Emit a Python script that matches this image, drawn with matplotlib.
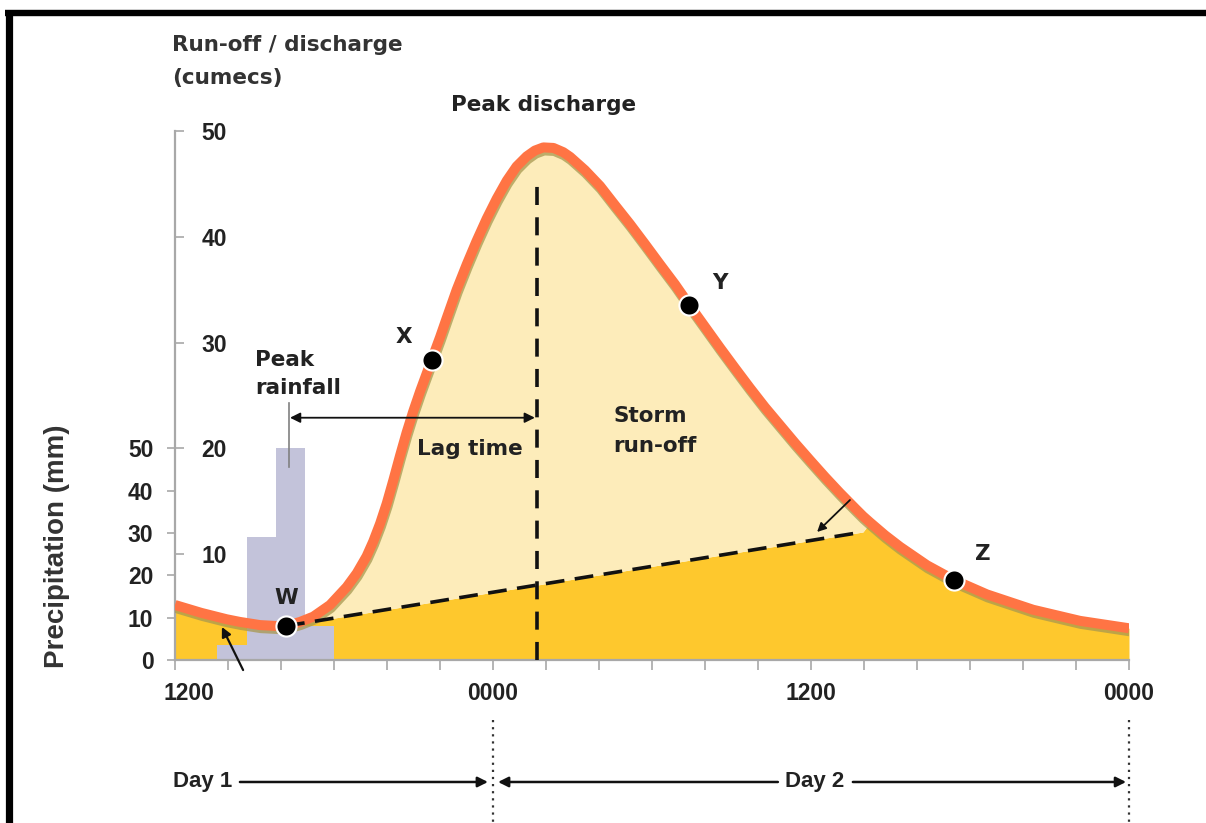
import numpy as np
import matplotlib
matplotlib.use("Agg")
import matplotlib.pyplot as plt
import matplotlib.transforms as mtransforms
from matplotlib import patheffects as pe
from matplotlib.lines import Line2D
from matplotlib.ticker import FixedLocator

# ---------------- data ----------------
hours = [0.0, 1.0, 1.95, 2.45, 3.21, 3.96, 4.19, 4.72, 5.22, 5.85, 6.48, 6.86,
         7.23, 7.48, 7.74, 7.99, 8.24, 8.49, 8.74, 8.99, 9.25, 9.69, 10.0,
         10.25, 10.63, 11.01, 11.38, 11.76, 12.14, 12.52, 12.89, 13.27, 13.58,
         13.90, 14.28, 14.65, 14.91, 15.47, 16.04, 16.60, 17.17, 17.74, 18.30,
         18.87, 19.41, 19.94, 20.57, 21.13, 21.70, 22.26, 22.83, 23.40, 23.96,
         24.53, 25.09, 25.66, 25.96, 26.23, 26.79, 27.36, 28.38, 29.40, 30.64,
         32.38, 34.15, 36.0]
discharge = [5.2, 4.45, 3.85, 3.6, 3.3, 3.2, 3.22, 3.6, 4.1, 5.2, 6.9, 8.2,
             9.8, 11.2, 12.9, 14.8, 17.0, 19.3, 21.5, 23.5, 25.4, 28.4, 30.5,
             32.3, 35.0, 37.4, 39.6, 41.7, 43.6, 45.3, 46.65, 47.6, 48.15,
             48.45, 48.4, 48.0, 47.55, 46.3, 44.8, 43.0, 41.2, 39.3, 37.4,
             35.5, 33.55, 31.7, 29.5, 27.6, 25.7, 23.9, 22.2, 20.5, 18.9,
             17.3, 15.8, 14.35, 13.6, 13.0, 11.8, 10.7, 8.95, 7.56, 6.2,
             4.75, 3.7, 3.0]

rain_start = [1.6, 2.7, 3.8, 4.9]      # hours after 1200 day 1
rain_mm = [3.5, 29, 50, 8]
rain_width = 1.1

base_hours = [4.19, 25.96]
base_discharge = [3.22, 12.1]

peak_hour = 13.66
peak_line_top = 45.2

point_labels = ["W", "X", "Y", "Z"]
point_hours = [4.19, 9.69, 19.41, 29.40]
point_discharge = [3.22, 28.4, 33.55, 7.56]

x_major = [0, 12, 24, 36]
x_major_labels = ["1200", "0000", "1200", "0000"]
x_minor = list(range(0, 37, 2))
discharge_ticks = [10, 20, 30, 40, 50]
precip_ticks = [0, 10, 20, 30, 40, 50]

# ---------------- style ----------------
ORANGE = "#FF7444"
DARK = "#FEC82D"
LIGHT = "#FDECBA"
GREY_BAR = "#C3C3DA"
AXIS_GREY = "#A8A8A8"
TXT = "#222222"
ANN = dict(family="DejaVu Sans", weight="bold", size=15.5, color=TXT)
NUM = dict(family="Liberation Sans", weight="bold", size=16.5)

W, H = 1206, 823
fig = plt.figure(figsize=(W / 100, H / 100), dpi=100)
x0, y0 = 175, 660
px_h = 26.5
ppc = 10.58
ytop = 52
ax = fig.add_axes([x0 / W, (H - y0) / H, 36 * px_h / W, ytop * ppc / H])
ax.set_xlim(0, 36)
ax.set_ylim(0, ytop)
ax2 = ax.twinx()
ax2.set_ylim(0, ytop * 2.5)

for s in ["top", "right"]:
    ax.spines[s].set_visible(False)
for s in ax2.spines.values():
    s.set_visible(False)
ax.spines["left"].set_bounds(0, 50)
ax.spines["bottom"].set_bounds(0, 36)
for s in ["left", "bottom"]:
    ax.spines[s].set_color(AXIS_GREY)
    ax.spines[s].set_linewidth(1.6)

# ---------------- fills ----------------
h = np.array(hours)
d = np.array(discharge)
base_line = np.interp(h, base_hours, base_discharge)
inside = (h >= base_hours[0]) & (h <= base_hours[1])
lower = np.where(inside, np.minimum(d, base_line), d)
ax.fill_between(h, 0, lower, color=DARK, lw=0, zorder=1)
ax.fill_between(h, lower, d, color=LIGHT, lw=0, zorder=1)

# rainfall bars (precip units via ax2 y scale)
bar_tr = mtransforms.blended_transform_factory(ax.transData, ax2.transData)
ax.bar(rain_start, rain_mm, width=rain_width, align="edge", color=GREY_BAR,
       lw=0, transform=bar_tr, zorder=2)

# hydrograph curve
ax.plot(h, d, color=ORANGE, lw=7.2, solid_capstyle="butt",
        solid_joinstyle="round", zorder=5,
        path_effects=[pe.SimpleLineShadow(offset=(0.6, -2.2),
                                          shadow_color="#A89850", alpha=0.75),
                      pe.Normal()])

# baseflow and peak dashed lines
ax.plot(base_hours, base_discharge, color="#111111", lw=2.6,
        dashes=(5.2, 2.9), zorder=6)
ax.plot([peak_hour, peak_hour], [0, peak_line_top], color="#111111", lw=2.6,
        dashes=(5.0, 3.4), zorder=6)

# points W X Y Z
ax.plot(point_hours, point_discharge, "o", ms=14.5, color="black", mec="white",
        mew=1.5, zorder=8, ls="none")
offsets = [(0, 20), (-20, 16), (22, 16), (21, 19)]
for lab, ph, pdv, off in zip(point_labels, point_hours, point_discharge, offsets):
    ax.annotate(lab, (ph, pdv), xytext=off, textcoords="offset points",
                ha="center", va="center", zorder=9, **ANN)

# ---------------- annotations ----------------
ax.plot([4.3, 4.3], [18.2, 24.3], color="#808080", lw=1.2, zorder=7)
ax.annotate("", xy=(13.58, 22.9), xytext=(4.34, 22.9),
            arrowprops=dict(arrowstyle="<|-|>", color="#111111", lw=1.3,
                            mutation_scale=15, shrinkA=0, shrinkB=0), zorder=7)
ax.text(3.02, 28.4, "Peak", ha="left", va="center", **ANN)
ax.text(3.02, 25.7, "rainfall", ha="left", va="center", **ANN)
ax.text(11.13, 19.94, "Lag time", ha="center", va="center", zorder=7, **ANN)
ax.text(16.53, 23.06, "Storm", ha="left", va="center", zorder=7, **ANN)
ax.text(16.53, 20.2, "run-off", ha="left", va="center", zorder=7, **ANN)
ax.text(13.89, 52.5, "Peak discharge", ha="center", va="center",
        clip_on=False, **ANN)

ax.annotate("", xy=(24.23, 12.1), xytext=(25.47, 15.12),
            arrowprops=dict(arrowstyle="-|>", color="#111111", lw=1.3,
                            mutation_scale=13, shrinkA=0, shrinkB=0), zorder=9)
ax.annotate("", xy=(1.77, 3.12), xytext=(2.57, -0.95),
            arrowprops=dict(arrowstyle="-|>", color="#111111", lw=1.6,
                            mutation_scale=14, shrinkA=0, shrinkB=0),
            zorder=9, annotation_clip=False)

# Day arrows
yday = -11.53
ax.text(1.04, yday, "Day 1", ha="center", va="center", clip_on=False,
        family="Liberation Sans", weight="bold", size=16, color=TXT)
ax.text(24.15, yday, "Day 2", ha="center", va="center", clip_on=False,
        family="Liberation Sans", weight="bold", size=16, color=TXT)
arrow_kw = dict(arrowstyle="-|>", color="#111111", lw=1.8, mutation_scale=15,
                shrinkA=0, shrinkB=0)
for a, b in [(2.45, 11.81), (22.75, 12.19), (25.58, 35.89)]:
    ax.annotate("", xy=(b, yday), xytext=(a, yday), arrowprops=arrow_kw,
                annotation_clip=False)
for xd in [12, 36]:
    ax.plot([xd, xd], [-5.67, -15.6], color="#333333", lw=1.6,
            dashes=(1, 2.2), clip_on=False)

# ---------------- axes ticks ----------------
ax.xaxis.set_major_locator(FixedLocator(x_major))
ax.xaxis.set_minor_locator(FixedLocator(x_minor))
ax.set_xticklabels(x_major_labels)
ax.tick_params(axis="x", which="both", direction="out", length=7.5, width=1.2,
               color=AXIS_GREY, pad=8, labelcolor=TXT)
ax.set_yticks(discharge_ticks)
ax.tick_params(axis="y", direction="in", length=6.5, width=1.2,
               color=AXIS_GREY, pad=-37.5, labelcolor=TXT)
ax2.yaxis.tick_left()
ax2.set_yticks(precip_ticks)
ax2.tick_params(axis="y", direction="out", length=6, width=1.2,
                color=AXIS_GREY, pad=9.5, labelcolor=TXT)
for lbl in ax.get_xticklabels() + ax.get_yticklabels() + ax2.get_yticklabels():
    lbl.set_fontfamily(NUM["family"])
    lbl.set_fontweight(NUM["weight"])
    lbl.set_fontsize(NUM["size"])
first = ax.xaxis.get_major_ticks()[0].label1
first.set_transform(first.get_transform() +
                    mtransforms.ScaledTranslation(0.14, 0, fig.dpi_scale_trans))

# ---------------- titles ----------------
fig.text(172 / W, 1 - 45 / H, "Run-off / discharge", ha="left", va="center",
         family="DejaVu Sans", weight="bold", size=15.5, color="#333333")
fig.text(172 / W, 1 - 78 / H, "(cumecs)", ha="left", va="center",
         family="DejaVu Sans", weight="bold", size=15.5, color="#333333")
fig.text(57 / W, 1 - 546 / H, "Precipitation (mm)", rotation=90, ha="center",
         va="center", family="Liberation Sans", weight="bold", size=20,
         color="#333333")

# border (left and top)
fig.add_artist(Line2D([8.5 / W, 8.5 / W], [0, 1 - 10 / H], color="black",
                      lw=5.2, transform=fig.transFigure, solid_capstyle="butt"))
fig.add_artist(Line2D([5 / W, 1], [1 - 13 / H, 1 - 13 / H], color="black",
                      lw=4.6, transform=fig.transFigure, solid_capstyle="butt"))

fig.savefig("out.png", dpi=100)
